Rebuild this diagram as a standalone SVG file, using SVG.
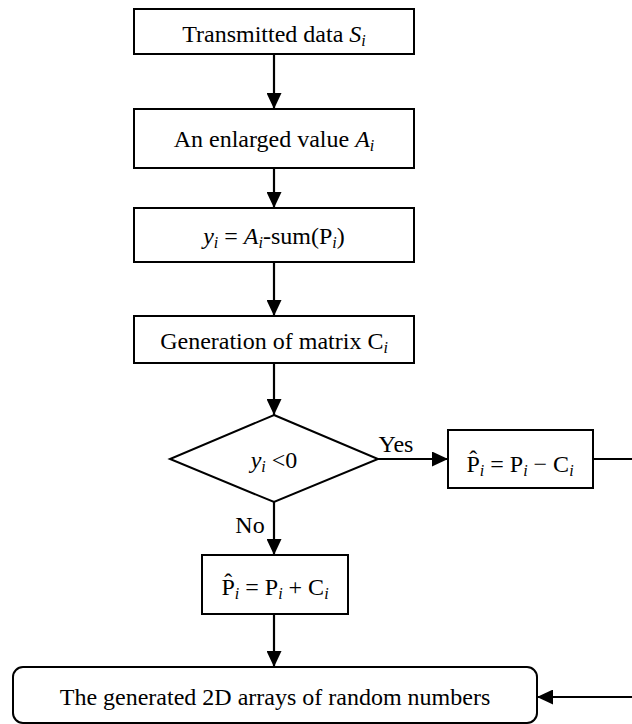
<svg xmlns="http://www.w3.org/2000/svg" width="632" height="724" viewBox="0 0 632 724">
<defs>
<marker id="ah" markerUnits="userSpaceOnUse" markerWidth="16" markerHeight="15" refX="16" refY="7.5" orient="auto">
<path d="M0,0 L16,7.5 L0,15 z" fill="#000"/>
</marker>
<style>
.box{fill:#fff;stroke:#000;stroke-width:2}
.t{font-size:24px;fill:#000;text-anchor:middle}
.it{font-style:italic}
.sub{font-size:16px;font-style:italic}
.c{fill:none;stroke:#000;stroke-width:2.2}
</style>
</defs>
<rect width="632" height="724" fill="#fff"/>
<g id="connectors" font-family="Liberation Serif, DejaVu Serif, serif">
<line class="c" x1="274" y1="54" x2="274" y2="109" marker-end="url(#ah)"/>
<line class="c" x1="274" y1="168" x2="274" y2="208" marker-end="url(#ah)"/>
<line class="c" x1="274" y1="262" x2="274" y2="316" marker-end="url(#ah)"/>
<line class="c" x1="274" y1="363" x2="274" y2="415" marker-end="url(#ah)"/>
<line class="c" x1="378" y1="459" x2="448" y2="459" marker-end="url(#ah)"/>
<line class="c" x1="274" y1="502" x2="274" y2="555" marker-end="url(#ah)"/>
<line class="c" x1="274" y1="614" x2="274" y2="667" marker-end="url(#ah)"/>
<path class="c" d="M593,459 H640 V697 H537" marker-end="url(#ah)"/>
<text class="t" x="396" y="452">Yes</text>
<text class="t" x="250" y="533">No</text>
</g>
<g font-family="Liberation Serif, DejaVu Serif, serif">
<g id="n1">
<rect class="box" x="134" y="9" width="280" height="45"/>
<text class="t" x="274" y="42">Transmitted data <tspan class="it">S</tspan><tspan class="sub" dy="4">i</tspan></text>
</g>
<g id="n2">
<rect class="box" x="134" y="109" width="280" height="59"/>
<text class="t" x="274" y="147">An enlarged value <tspan class="it">A</tspan><tspan class="sub" dy="4">i</tspan></text>
</g>
<g id="n3">
<rect class="box" x="134" y="208" width="280" height="54"/>
<text class="t" x="274" y="244"><tspan class="it">y</tspan><tspan class="sub" dy="4">i</tspan><tspan dy="-4"> = </tspan><tspan class="it">A</tspan><tspan class="sub" dy="4">i</tspan><tspan dy="-4">-sum(P</tspan><tspan class="sub" dy="4">i</tspan><tspan dy="-4">)</tspan></text>
</g>
<g id="n4">
<rect class="box" x="134" y="316" width="280" height="47"/>
<text class="t" x="274" y="349">Generation of matrix C<tspan class="sub" dy="4">i</tspan></text>
</g>
<g id="n5">
<polygon class="box" points="274,415 378,459 274,502 170,459"/>
<text class="t" x="274" y="468"><tspan class="it">y</tspan><tspan class="sub" dy="4">i</tspan><tspan dy="-4"> &lt;0</tspan></text>
</g>
<g id="n6">
<rect class="box" x="448" y="430" width="145" height="58"/>
<text class="t" x="520" y="472">P&#770;<tspan class="sub" dy="4">i</tspan><tspan dy="-4"> = P</tspan><tspan class="sub" dy="4">i</tspan><tspan dy="-4"> &#8722; C</tspan><tspan class="sub" dy="4">i</tspan></text>
</g>
<g id="n7">
<rect class="box" x="202" y="555" width="146" height="59"/>
<text class="t" x="275" y="595">P&#770;<tspan class="sub" dy="4">i</tspan><tspan dy="-4"> = P</tspan><tspan class="sub" dy="4">i</tspan><tspan dy="-4"> + C</tspan><tspan class="sub" dy="4">i</tspan></text>
</g>
<g id="n8">
<rect class="box" x="13" y="667" width="524" height="56" rx="10"/>
<text class="t" x="275" y="705">The generated 2D arrays of random numbers</text>
</g>
</g>
</svg>
